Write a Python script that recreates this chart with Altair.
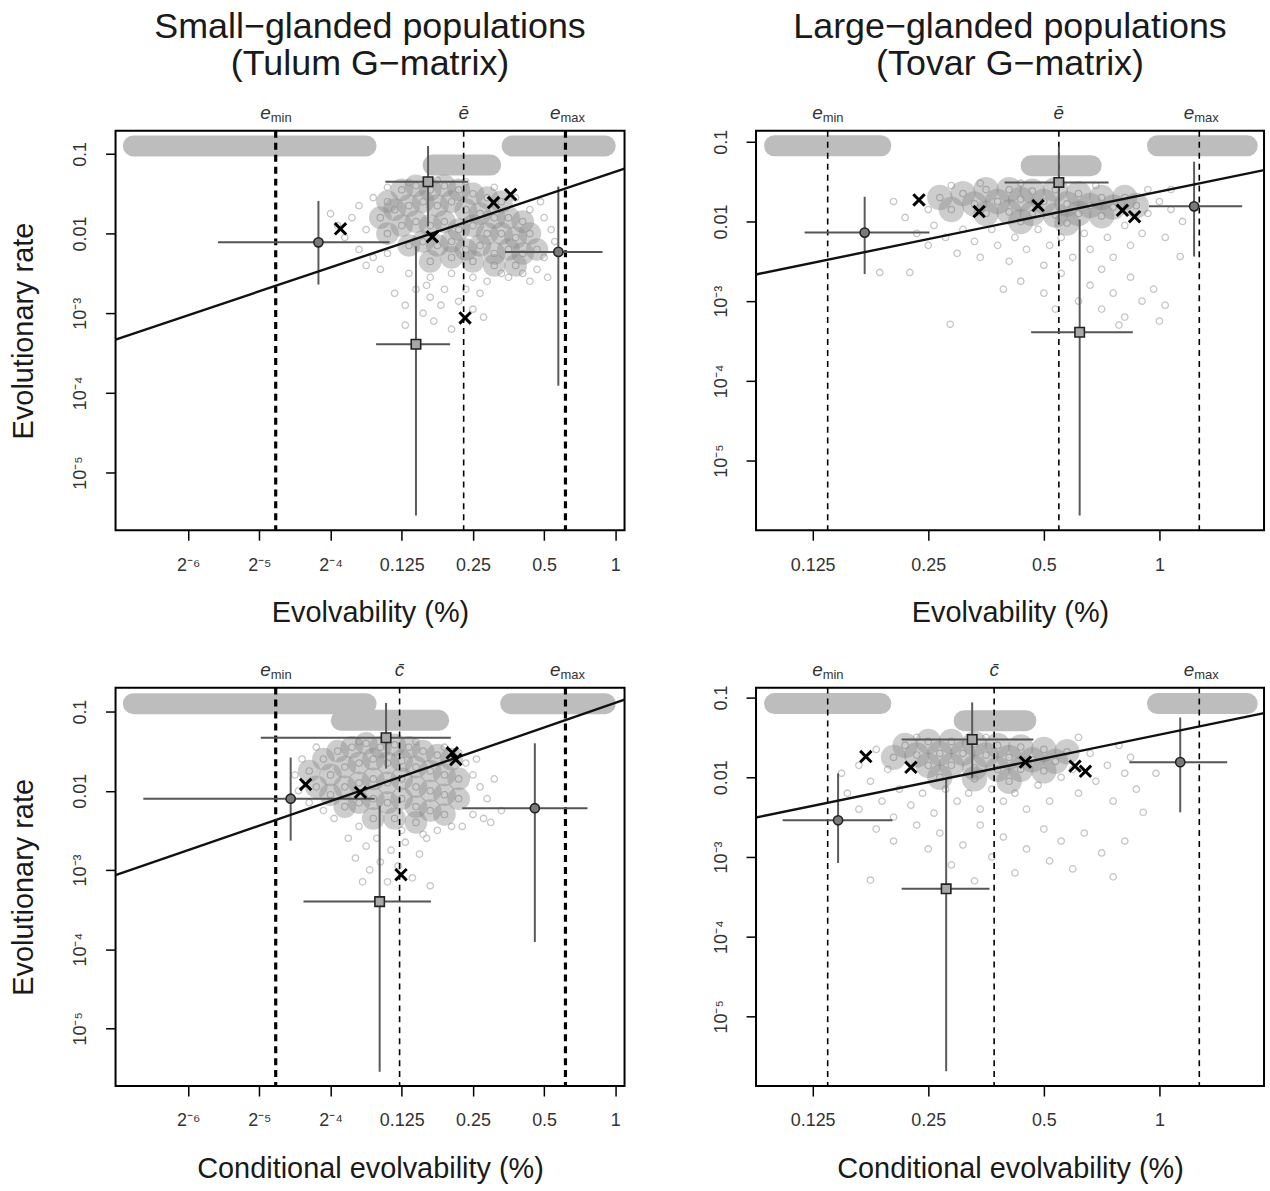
import altair as alt
import pandas as pd

FONT = "Liberation Sans"

# ---------------- text ----------------
TL_TITLE = ["Small\u2212glanded populations", "(Tulum G\u2212matrix)"]
TR_TITLE = ["Large\u2212glanded populations", "(Tovar G\u2212matrix)"]
X_TITLE_TOP = "Evolvability (%)"
X_TITLE_BOTTOM = "Conditional evolvability (%)"
Y_TITLE = "Evolutionary rate"

SMALL_X_TICKS_LOG2 = [-6, -5, -4, -3, -2, -1, 0]
SMALL_X_LABELS = ["2\u207b\u2076", "2\u207b\u2075", "2\u207b\u2074", "0.125", "0.25", "0.5", "1"]
LARGE_X_TICKS_LOG2 = [-3, -2, -1, 0]
LARGE_X_LABELS = ["0.125", "0.25", "0.5", "1"]
Y_TICKS_LOG10 = [-5, -4, -3, -2, -1]
Y_LABELS = ["10\u207b\u2075", "10\u207b\u2074", "10\u207b\u00b3", "0.01", "0.1"]

# ---------------- values (x as log2 of %, y as log10 of rate) ----------------
# Top-left: small-glanded, evolvability
TL_XDOM = [-7.02, 0.13]
TL_YDOM = [-5.725, -0.71]
TL_REF = [-4.77, -2.13, -0.70]           # e_min, e_bar, e_max
TL_BARS = [(-6.77, -3.50, -0.90), (-2.56, -1.75, -1.14), (-1.45, -0.14, -0.90)]
TL_CIRCLES = [(-4.17, -2.11, -5.58, -3.17, -1.59, -2.64), (-0.80, -2.23, -1.55, -0.18, -1.41, -3.91)]
TL_SQUARES = [(-2.63, -1.35, -3.23, -2.07, -0.90, -1.91), (-2.80, -3.39, -3.36, -2.32, -2.16, -5.54)]
TL_CROSSES = [(-3.86, -1.94), (-2.57, -2.04), (-2.11, -3.06), (-1.71, -1.61), (-1.47, -1.51)]
TL_FIT = (0.300, -1.225)                 # slope, intercept (log10 rate per log2 evolvability)
TL_CORE = [(-3.2, -1.6), (-3.0, -1.45), (-2.8, -1.4), (-2.6, -1.45), (-2.4, -1.4), (-2.2, -1.45), (-2.0, -1.5),
           (-1.8, -1.55), (-1.6, -1.6), (-3.3, -1.8), (-3.1, -1.7), (-2.9, -1.65), (-2.7, -1.6), (-2.5, -1.65),
           (-2.3, -1.6), (-2.1, -1.7), (-1.9, -1.75), (-1.7, -1.8), (-1.5, -1.8), (-1.3, -1.85), (-3.2, -2.0),
           (-3.0, -1.9), (-2.8, -1.85), (-2.6, -1.9), (-2.4, -1.85), (-2.2, -1.95), (-2.0, -1.9), (-1.8, -2.0),
           (-1.6, -2.0), (-1.4, -2.05), (-1.2, -2.0), (-2.9, -2.15), (-2.7, -2.1), (-2.5, -2.15), (-2.3, -2.1),
           (-2.1, -2.2), (-1.9, -2.15), (-1.7, -2.25), (-1.5, -2.2), (-1.3, -2.25), (-1.1, -2.2), (-2.6, -2.35),
           (-2.3, -2.3), (-2.0, -2.35), (-1.7, -2.4), (-1.4, -2.4)]
TL_CLOUD = [(-4.0, -1.75), (-3.9, -1.9), (-3.8, -2.05), (-3.7, -1.8), (-3.6, -2.2), (-3.5, -1.95), (-3.6, -1.65),
            (-3.4, -2.3), (-3.3, -2.45), (-3.5, -2.4), (-3.2, -2.25), (-3.4, -1.55), (-3.2, -1.42), (-2.9, -1.36),
            (-2.5, -1.33), (-2.1, -1.35), (-1.7, -1.42), (-1.4, -1.55), (-1.2, -1.7), (-1.0, -1.8), (-0.9, -1.95),
            (-0.85, -2.1), (-1.0, -2.3), (-1.1, -2.45), (-1.3, -2.5), (-0.95, -2.55), (-1.2, -2.6), (-1.5, -2.55),
            (-1.05, -1.6), (-2.9, -2.5), (-2.6, -2.55), (-2.3, -2.5), (-2.0, -2.55), (-1.8, -2.6), (-1.6, -2.5),
            (-3.1, -2.75), (-2.95, -2.9), (-2.8, -2.7), (-2.7, -3.0), (-2.6, -2.8), (-2.55, -3.1), (-2.45, -2.9),
            (-2.4, -2.7), (-2.3, -3.2), (-2.2, -2.85), (-2.1, -2.7), (-2.0, -2.95), (-1.9, -2.75), (-1.85, -3.05),
            (-2.65, -2.65), (-2.95, -3.15)]

# Top-right: large-glanded, evolvability
TR_XDOM = [-3.49, 0.905]
TR_YDOM = [-5.875, -0.8625]
TR_REF = [-2.87, -0.87, 0.345]
TR_BARS = [(-3.33, -2.41, -1.05), (-1.11, -0.59, -1.30), (-0.017, 0.76, -1.05)]
TR_CIRCLES = [(-2.55, -2.14, -3.07, -1.99, -1.69, -2.66), (0.30, -1.81, -0.09, 0.716, -1.25, -2.44)]
TR_SQUARES = [(-0.87, -1.51, -1.34, -0.44, -1.06, -2.01), (-0.69, -3.39, -1.11, -0.23, -1.975, -5.69)]
TR_CROSSES = [(-2.08, -1.73), (-1.56, -1.875), (-1.05, -1.80), (-0.32, -1.86), (-0.215, -1.94)]
TR_FIT = (0.298, -1.625)
TR_CORE = [(-1.7, -1.65), (-1.5, -1.6), (-1.3, -1.6), (-1.1, -1.62), (-0.9, -1.6), (-0.7, -1.65), (-0.5, -1.7),
           (-1.6, -1.78), (-1.4, -1.75), (-1.2, -1.72), (-1.0, -1.75), (-0.8, -1.78), (-0.6, -1.8), (-0.4, -1.82),
           (-1.5, -1.9), (-1.3, -1.88), (-1.1, -1.9), (-0.9, -1.92), (-0.7, -1.9), (-0.5, -1.93), (-1.9, -1.7),
           (-1.8, -1.85), (-0.3, -1.7), (-0.2, -1.8), (-1.2, -2.0), (-0.8, -2.02)]
TR_CLOUD = [(-2.3, -1.75), (-2.2, -1.95), (-2.1, -2.15), (-2.0, -1.85), (-2.0, -2.3), (-1.95, -2.05), (-1.85, -2.2),
            (-1.8, -1.55), (-1.75, -2.4), (-1.7, -2.1), (-1.6, -2.25), (-1.55, -2.45), (-1.45, -2.1), (-1.4, -2.3),
            (-1.3, -2.5), (-1.25, -2.2), (-1.15, -2.35), (-1.05, -2.1), (-1.0, -2.55), (-0.95, -2.3), (-0.85, -2.2),
            (-0.75, -2.45), (-0.65, -2.15), (-0.6, -2.35), (-0.5, -2.6), (-0.45, -2.2), (-0.4, -2.45), (-0.3, -2.05),
            (-0.25, -2.3), (-0.15, -2.15), (-0.1, -1.9), (0.0, -1.75), (0.1, -1.85), (0.2, -2.0), (0.05, -2.2),
            (-0.1, -1.6), (0.1, -1.6), (-0.55, -1.55), (-1.2, -1.52), (-1.55, -1.52), (-2.42, -2.64), (-2.16, -2.64),
            (-1.81, -3.29), (-1.2, -2.75), (-1.0, -2.9), (-0.85, -2.65), (-0.7, -3.0), (-0.6, -2.8), (-0.5, -3.1),
            (-0.4, -2.9), (-0.3, -3.2), (-0.25, -2.7), (-0.15, -3.0), (-0.05, -2.85), (0.0, -3.25), (0.05, -3.05),
            (-0.35, -3.3), (-0.9, -3.1), (0.18, -2.44), (-1.35, -2.85)]

# Bottom-left: small-glanded, conditional evolvability
BL_XDOM = [-7.02, 0.13]
BL_YDOM = [-5.73, -0.697]
BL_REF = [-4.77, -3.03, -0.70]
BL_BARS = [(-6.77, -3.50, -0.90), (-3.85, -2.48, -1.11), (-1.47, -0.14, -0.90)]
BL_CIRCLES = [(-4.56, -2.10, -6.63, -3.38, -1.58, -2.63), (-1.13, -2.22, -2.15, -0.39, -1.40, -3.91)]
BL_SQUARES = [(-3.22, -1.33, -4.98, -2.31, -0.89, -1.72), (-3.31, -3.40, -4.38, -2.59, -2.19, -5.55)]
BL_CROSSES = [(-4.35, -1.92), (-3.58, -2.02), (-2.29, -1.52), (-2.24, -1.605), (-3.01, -3.06)]
BL_FIT = (0.31, -0.89)
BL_CORE = [(-4.3, -1.75), (-4.1, -1.6), (-3.9, -1.5), (-3.7, -1.45), (-3.5, -1.4), (-3.3, -1.45), (-3.1, -1.42),
           (-2.9, -1.45), (-2.7, -1.5), (-2.5, -1.55), (-2.3, -1.6), (-4.2, -1.95), (-4.0, -1.8), (-3.8, -1.7),
           (-3.6, -1.65), (-3.4, -1.6), (-3.2, -1.65), (-3.0, -1.62), (-2.8, -1.7), (-2.6, -1.75), (-2.4, -1.8),
           (-2.2, -1.85), (-4.0, -2.05), (-3.8, -1.95), (-3.6, -1.9), (-3.4, -1.85), (-3.2, -1.9), (-3.0, -1.85),
           (-2.8, -1.95), (-2.6, -2.0), (-2.4, -2.05), (-2.2, -2.1), (-3.8, -2.2), (-3.6, -2.15), (-3.4, -2.1),
           (-3.2, -2.15), (-3.0, -2.1), (-2.8, -2.2), (-2.6, -2.25), (-2.4, -2.3), (-3.4, -2.35), (-3.1, -2.35),
           (-2.8, -2.4)]
BL_CLOUD = [(-4.5, -1.8), (-4.45, -2.0), (-4.3, -2.15), (-4.4, -1.6), (-4.2, -1.45), (-4.1, -2.25), (-3.95, -2.35),
            (-3.6, -1.38), (-3.2, -1.37), (-2.8, -1.38), (-2.4, -1.45), (-2.2, -1.52), (-2.1, -1.65), (-2.0, -1.8),
            (-1.9, -1.95), (-1.8, -2.1), (-1.7, -1.85), (-1.6, -2.25), (-1.75, -2.4), (-2.0, -2.3), (-2.15, -2.45),
            (-1.95, -1.6), (-1.85, -2.35), (-2.5, -2.5), (-2.3, -2.45), (-2.7, -2.55), (-3.0, -2.5), (-3.6, -2.45),
            (-3.75, -2.6), (-3.65, -2.85), (-3.5, -2.7), (-3.45, -3.0), (-3.35, -2.6), (-3.3, -2.9), (-3.2, -3.15),
            (-3.15, -2.75), (-3.05, -2.95), (-2.95, -2.65), (-2.85, -3.1), (-2.75, -2.8), (-2.65, -2.6),
            (-2.6, -3.2), (-3.55, -3.15)]

# Bottom-right: large-glanded, conditional evolvability
BR_XDOM = [-3.49, 0.905]
BR_YDOM = [-5.875, -0.875]
BR_REF = [-2.87, -1.43, 0.345]
BR_BARS = [(-3.33, -2.41, -1.075), (-1.69, -1.155, -1.29), (-0.017, 0.76, -1.075)]
BR_CIRCLES = [(-2.78, -2.54, -3.26, -2.31, -1.95, -3.075), (0.18, -1.81, -0.26, 0.586, -1.25, -2.44)]
BR_SQUARES = [(-1.62, -1.525, -2.23, -1.09, -1.06, -2.01), (-1.845, -3.40, -2.23, -1.47, -2.01, -5.69)]
BR_CROSSES = [(-2.54, -1.74), (-2.15, -1.875), (-1.16, -1.81), (-0.73, -1.86), (-0.64, -1.925)]
BR_FIT = (0.298, -1.465)
BR_CORE = [(-2.2, -1.6), (-2.0, -1.55), (-1.8, -1.55), (-1.6, -1.58), (-1.4, -1.6), (-1.2, -1.62), (-1.0, -1.65),
           (-2.1, -1.72), (-1.9, -1.7), (-1.7, -1.7), (-1.5, -1.72), (-1.3, -1.75), (-1.1, -1.78), (-0.9, -1.8),
           (-2.0, -1.85), (-1.8, -1.85), (-1.6, -1.88), (-1.4, -1.9), (-1.2, -1.9), (-1.0, -1.92), (-1.9, -2.0),
           (-1.6, -2.02), (-1.3, -2.05), (-2.3, -1.75), (-0.8, -1.68)]
BR_CLOUD = [(-2.75, -1.95), (-2.7, -2.2), (-2.6, -1.85), (-2.6, -2.4), (-2.5, -2.05), (-2.45, -1.65), (-2.4, -2.3),
            (-2.35, -1.9), (-2.3, -2.5), (-2.25, -2.15), (-2.15, -2.35), (-2.1, -1.5), (-2.05, -2.2), (-1.95, -2.45),
            (-1.85, -2.15), (-1.75, -2.3), (-1.65, -2.2), (-1.55, -2.4), (-1.45, -2.15), (-1.35, -2.3),
            (-1.25, -2.2), (-1.15, -2.4), (-1.05, -2.1), (-0.95, -2.3), (-0.85, -2.0), (-0.75, -1.9), (-0.7, -2.2),
            (-0.6, -1.7), (-0.55, -2.05), (-0.45, -1.85), (-0.4, -2.3), (-0.35, -1.6), (-0.3, -1.95), (-0.25, -1.75),
            (-0.2, -2.15), (-0.03, -1.95), (-0.7, -1.5), (-1.5, -1.5), (-2.5, -3.29), (-2.45, -2.65), (-2.3, -2.8),
            (-2.1, -2.6), (-2.0, -2.9), (-1.9, -2.7), (-1.8, -3.1), (-1.7, -2.85), (-1.55, -2.6), (-1.45, -3.0),
            (-1.35, -2.75), (-1.25, -3.2), (-1.15, -2.9), (-1.0, -2.65), (-0.95, -3.05), (-0.85, -2.8),
            (-0.75, -3.15), (-0.65, -2.7), (-0.5, -2.95), (-0.4, -3.25), (-0.3, -2.8), (-0.14, -2.44), (-1.6, -3.3)]

REF_SUB = ["min", "", "max"]


def label_expr(vals, labels):
    expr = "''"
    for v, l in zip(reversed(vals), reversed(labels)):
        expr = f"abs(datum.value - {v!r}) < {abs(v) * 1e-6!r} ? '{l}' : ({expr})"
    return expr


def pts(lst):
    return pd.DataFrame({"x": [2.0 ** a for a, b in lst], "y": [10.0 ** b for a, b in lst]})


def panel(xdom, ydom, ref, bars, circles, squares, crosses, fit, core, cloud,
          xticks, xlabels, xtitle, ytitle, center_label, thick, title, width, height, core_size):
    xvals = [2.0 ** t for t in xticks]
    yvals = [10.0 ** t for t in Y_TICKS_LOG10]
    xs = alt.Scale(type="log", base=2, domain=[2.0 ** xdom[0], 2.0 ** xdom[1]], nice=False)
    ys = alt.Scale(type="log", base=10, domain=[10.0 ** ydom[0], 10.0 ** ydom[1]], nice=False)
    xaxis = alt.Axis(values=xvals, labelExpr=label_expr(xvals, xlabels), title=xtitle,
                     tickSize=10, labelPadding=16, titlePadding=25, labelOverlap=False, labelFlush=False)
    yaxis_kw = dict(values=yvals, labelExpr=label_expr(yvals, Y_LABELS), tickSize=10,
                    labelAngle=-90, labelAlign="center", labelBaseline="bottom", labelPadding=16,
                    labelOverlap=False, labelFlush=False, titlePadding=33)
    yaxis = alt.Axis(title=ytitle, **yaxis_kw) if ytitle else alt.Axis(title=None, **yaxis_kw)
    X = alt.X("x:Q", scale=xs, axis=xaxis)
    Y = alt.Y("y:Q", scale=ys, axis=yaxis)

    bars_df = pd.DataFrame({"x": [2.0 ** b[0] for b in bars], "x2": [2.0 ** b[1] for b in bars],
                            "y": [10.0 ** b[2] for b in bars]})
    pts_all = circles + squares
    h_df = pd.DataFrame({"x": [2.0 ** p[2] for p in pts_all], "x2": [2.0 ** p[3] for p in pts_all],
                         "y": [10.0 ** p[1] for p in pts_all]})
    v_df = pd.DataFrame({"x": [2.0 ** p[0] for p in pts_all], "y": [10.0 ** p[4] for p in pts_all],
                         "y2": [10.0 ** p[5] for p in pts_all]})
    circ_df = pts([(p[0], p[1]) for p in circles])
    sq_df = pts([(p[0], p[1]) for p in squares])
    cr_df = pts(crosses)
    fit_df = pd.DataFrame({"x": [2.0 ** xdom[0], 2.0 ** xdom[1]],
                           "y": [10.0 ** (fit[1] + fit[0] * xdom[0]), 10.0 ** (fit[1] + fit[0] * xdom[1])]})
    ext_df = pd.DataFrame({"x": [2.0 ** ref[0], 2.0 ** ref[2]]})
    mid_df = pd.DataFrame({"x": [2.0 ** ref[1]]})
    sub_df = pd.DataFrame({"x": [2.0 ** ref[0], 2.0 ** ref[2]], "t": [REF_SUB[0], REF_SUB[2]]})

    layers = [
        alt.Chart(bars_df).mark_rule(strokeWidth=21, strokeCap="round", color="#bdbdbd").encode(
            x=X, x2="x2", y=Y),
        alt.Chart(pts(cloud)).mark_point(shape="circle", size=42, filled=False, stroke="#c6c6c6",
                                         strokeWidth=1.3, opacity=1).encode(x=X, y=Y),
        alt.Chart(pts(core)).mark_circle(size=core_size, fill="#888888", fillOpacity=0.42,
                                         strokeWidth=0).encode(x=X, y=Y),
        alt.Chart(pts(core)).mark_point(shape="circle", size=42, filled=False, stroke="#9c9c9c",
                                        strokeWidth=1.2, opacity=0.8).encode(x=X, y=Y),
        alt.Chart(ext_df).mark_rule(color="#000", strokeWidth=3.2 if thick else 1.6,
                                    strokeDash=[7, 5] if thick else [6, 5]).encode(x=X),
        alt.Chart(mid_df).mark_rule(color="#000", strokeWidth=1.6, strokeDash=[6, 5]).encode(x=X),
        alt.Chart(h_df).mark_rule(color="#555", strokeWidth=2).encode(x=X, x2="x2", y=Y),
        alt.Chart(v_df).mark_rule(color="#5a5a5a", strokeWidth=2).encode(x=X, y=Y, y2="y2"),
        alt.Chart(fit_df).mark_line(color="#111", strokeWidth=2.4).encode(x=X, y=Y),
        alt.Chart(circ_df).mark_point(shape="circle", size=85, filled=False, fill="#7a7a7a", fillOpacity=1,
                                      stroke="#222", strokeWidth=1.6, opacity=1).encode(x=X, y=Y),
        alt.Chart(sq_df).mark_point(shape="square", size=90, filled=False, fill="#a8a8a8", fillOpacity=1,
                                    stroke="#222", strokeWidth=1.6, opacity=1).encode(x=X, y=Y),
        alt.Chart(cr_df).mark_point(shape="M-1,-1L1,1M-1,1L1,-1", size=130, filled=False, stroke="#000",
                                    strokeWidth=3, opacity=1).encode(x=X, y=Y),
        alt.Chart(ext_df).mark_text(text="e", font=FONT, fontSize=19, fontStyle="italic", color="#333",
                                    align="right", dx=-5, baseline="alphabetic").encode(x=X, y=alt.value(-12)),
        alt.Chart(sub_df).mark_text(font=FONT, fontSize=13, color="#333", align="left", dx=-5,
                                    baseline="alphabetic").encode(x=X, y=alt.value(-9), text="t:N"),
        alt.Chart(mid_df).mark_text(text=center_label, font=FONT, fontSize=19, fontStyle="italic",
                                    color="#333", align="center", baseline="alphabetic").encode(
            x=X, y=alt.value(-12)),
    ]
    if title:
        for k, yv in [(0, -104), (1, -67)]:
            layers.append(
                alt.Chart(pd.DataFrame({"t": [title[k]]})).mark_text(
                    font=FONT, fontSize=36, color="#1a1a1a", align="center", baseline="middle").encode(
                    x=alt.value(width / 2), y=alt.value(yv), text="t:N"))
    return alt.layer(*layers).properties(width=width, height=height)


TL = panel(TL_XDOM, TL_YDOM, TL_REF, TL_BARS, TL_CIRCLES, TL_SQUARES, TL_CROSSES, TL_FIT, TL_CORE, TL_CLOUD,
           SMALL_X_TICKS_LOG2, SMALL_X_LABELS, X_TITLE_TOP, Y_TITLE, "\u0113", True, TL_TITLE, 511, 401, 520)
TR = panel(TR_XDOM, TR_YDOM, TR_REF, TR_BARS, TR_CIRCLES, TR_SQUARES, TR_CROSSES, TR_FIT, TR_CORE, TR_CLOUD,
           LARGE_X_TICKS_LOG2, LARGE_X_LABELS, X_TITLE_TOP, None, "\u0113", False, TR_TITLE, 510, 401, 650)
BL = panel(BL_XDOM, BL_YDOM, BL_REF, BL_BARS, BL_CIRCLES, BL_SQUARES, BL_CROSSES, BL_FIT, BL_CORE, BL_CLOUD,
           SMALL_X_TICKS_LOG2, SMALL_X_LABELS, X_TITLE_BOTTOM, Y_TITLE, "c\u0304", True, None, 511, 400, 520)
BR = panel(BR_XDOM, BR_YDOM, BR_REF, BR_BARS, BR_CIRCLES, BR_SQUARES, BR_CROSSES, BR_FIT, BR_CORE, BR_CLOUD,
           LARGE_X_TICKS_LOG2, LARGE_X_LABELS, X_TITLE_BOTTOM, None, "c\u0304", False, None, 510, 400, 650)

chart = alt.concat(
    TL, TR, BL, BR, columns=2, spacing={"row": 158, "column": 132}, bounds="flush"
).resolve_scale(
    x="independent", y="independent"
).properties(
    padding={"left": 9, "top": 6, "right": 0, "bottom": 0}, background="white"
).configure_view(
    stroke="#000", strokeWidth=2
).configure_axis(
    domain=False, grid=False, tickColor="#000", tickWidth=1.5,
    labelFont=FONT, labelFontSize=18, labelColor="#333",
    titleFont=FONT, titleFontSize=29, titleFontWeight="normal", titleColor="#1a1a1a"
)

chart.save("out.html", embed_options={"renderer": "svg", "actions": False})
